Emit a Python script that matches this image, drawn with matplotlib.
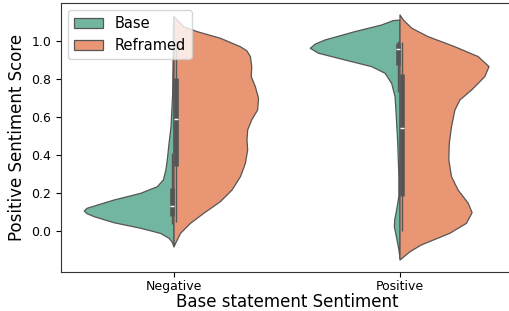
import colorsys
import matplotlib
matplotlib.use("Agg")
import matplotlib.pyplot as plt
from matplotlib.patches import Patch
import matplotlib.colors as mcolors

# ---------------- data ----------------
categories = ["Negative", "Positive"]
hues = ["Base", "Reframed"]

# violin half-widths (category units) at score values
neg_base_y = [-0.085, -0.06, -0.04, -0.014, 0.013, 0.042, 0.074, 0.09, 0.104, 0.118, 0.130,
              0.162, 0.197, 0.232, 0.268, 0.32, 0.37, 0.46, 0.55, 0.72, 0.9, 1.05, 1.13]
neg_base_w = [0, 0.008, 0.022, 0.060, 0.148, 0.265, 0.353, 0.385, 0.397, 0.385, 0.353,
              0.265, 0.148, 0.074, 0.047, 0.036, 0.030, 0.022, 0.013, 0.006, 0.004, 0.003, 0]

neg_ref_y = [-0.085, -0.067, -0.014, 0.039, 0.092, 0.153, 0.215, 0.285, 0.356, 0.426, 0.479,
             0.532, 0.585, 0.637, 0.699, 0.760, 0.813, 0.866, 0.919, 0.950, 0.971, 1.016, 1.051,
             1.077, 1.13]
neg_ref_w = [0, 0.007, 0.029, 0.073, 0.132, 0.205, 0.257, 0.294, 0.316, 0.326, 0.323,
             0.326, 0.344, 0.370, 0.374, 0.360, 0.342, 0.344, 0.338, 0.322, 0.294, 0.205, 0.102,
             0.043, 0]

pos_base_y = [-0.146, -0.10, -0.032, 0.021, 0.06, 0.109, 0.18, 0.285, 0.461, 0.637, 0.708,
              0.778, 0.831, 0.866, 0.901, 0.937, 0.963, 0.985, 1.007, 1.051, 1.086, 1.109, 1.112]
pos_base_w = [0, 0.005, 0.016, 0.025, 0.023, 0.015, 0.005, 0.005, 0.010, 0.018, 0.022,
              0.037, 0.066, 0.125, 0.243, 0.361, 0.397, 0.375, 0.331, 0.199, 0.081, 0.03, 0]

pos_ref_y = [-0.155, -0.137, -0.111, -0.075, -0.014, 0.039, 0.095, 0.145, 0.215, 0.285, 0.373,
             0.461, 0.549, 0.637, 0.690, 0.743, 0.813, 0.866, 0.919, 0.971, 1.024, 1.069, 1.112, 1.139]
pos_ref_w = [0, 0.018, 0.044, 0.095, 0.220, 0.294, 0.319, 0.302, 0.257, 0.228, 0.216,
             0.218, 0.228, 0.243, 0.265, 0.317, 0.375, 0.394, 0.346, 0.243, 0.125, 0.052, 0.015, 0]

# inner box statistics: [Negative, Positive]
base_whislo = [0.035, 0.73]
base_q1 = [0.08, 0.875]
base_med = [0.13, 0.958]
base_q3 = [0.224, 0.99]
base_whishi = [0.41, 1.0]

ref_whislo = [0.045, 0.0]
ref_q1 = [0.343, 0.185]
ref_med = [0.59, 0.541]
ref_q3 = [0.805, 0.827]
ref_whishi = [1.0, 0.995]

# ---------------- style ----------------
def desat(c, s=0.75):
    r, g, b = mcolors.to_rgb(c)
    h, l, sat = colorsys.rgb_to_hls(r, g, b)
    return colorsys.hls_to_rgb(h, l, sat * s)

col_base = desat("#66c2a5")
col_ref = desat("#fc8d62")
edge = "#555555"

fig = plt.figure(figsize=(5.09, 3.11), dpi=100)
ax = fig.add_axes([61 / 509, 1 - 272 / 311, 452 / 509, 269 / 311])

profiles = {
    ("Base", 0): (neg_base_y, neg_base_w),
    ("Reframed", 0): (neg_ref_y, neg_ref_w),
    ("Base", 1): (pos_base_y, pos_base_w),
    ("Reframed", 1): (pos_ref_y, pos_ref_w),
}

for i, cat in enumerate(categories):
    for hue, col, sign in [("Base", col_base, -1), ("Reframed", col_ref, 1)]:
        ys, ws = profiles[(hue, i)]
        xs = [i + sign * w for w in ws] + [i, i]
        yy = list(ys) + [ys[-1], ys[0]]
        ax.fill(xs, yy, facecolor=col, edgecolor=edge, linewidth=0.9, zorder=2,
                joinstyle="round")

box_col = "#555555"
for i in range(len(categories)):
    for sign, lo, q1, md, q3, hi in [
        (-1, base_whislo[i], base_q1[i], base_med[i], base_q3[i], base_whishi[i]),
        (1, ref_whislo[i], ref_q1[i], ref_med[i], ref_q3[i], ref_whishi[i]),
    ]:
        x = i + sign * 0.01
        ax.plot([x, x], [lo, hi], color=box_col, lw=1.0, solid_capstyle="butt", zorder=3)
        ax.plot([x, x], [q1, q3], color=box_col, lw=3.3, solid_capstyle="butt", zorder=3)
        ax.plot([x - 0.008, x + 0.008], [md, md], color="white", lw=1.0,
                solid_capstyle="butt", zorder=4)

ax.set_xlim(-0.5, 1.5)
ax.set_ylim(-0.218, 1.202)
ax.set_xticks(range(len(categories)))
ax.set_xticklabels(categories)
ax.set_yticks([0.0, 0.2, 0.4, 0.6, 0.8, 1.0])
ax.tick_params(labelsize=9)
ax.tick_params(axis="x", pad=2)
ax.set_xlabel("Base statement Sentiment", fontsize=12, labelpad=0)
ax.set_ylabel("Positive Sentiment Score", fontsize=12)
for s in ax.spines.values():
    s.set_color("#333333")

handles = [Patch(facecolor=col_base, edgecolor=edge, linewidth=0.9, label="Base"),
           Patch(facecolor=col_ref, edgecolor=edge, linewidth=0.9, label="Reframed")]
ax.legend(handles=handles, loc="upper left", fontsize=10.5)

fig.savefig("out.png", dpi=100)
